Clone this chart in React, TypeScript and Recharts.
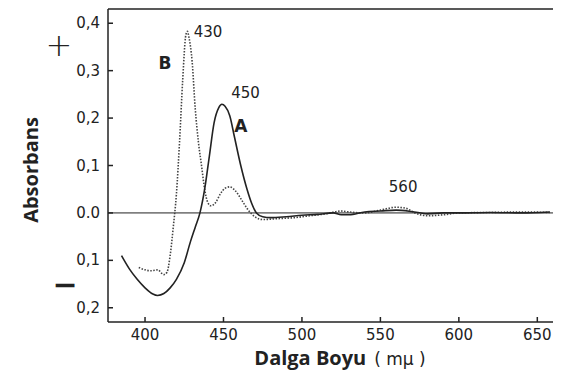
import { LineChart, Line, XAxis, YAxis, ReferenceLine, ReferenceDot } from 'recharts';

// Curve A (solid)
const waveA = [385, 390, 395, 400, 405, 408, 412, 416, 420, 425, 429, 432, 435, 438, 441, 444, 447, 449, 451, 454, 457, 461, 465, 468, 471, 475, 480, 490, 500, 510, 520, 525, 530, 540, 550, 560, 570, 580, 590, 600, 620, 640, 658];
const absA = [-0.09, -0.118, -0.14, -0.158, -0.171, -0.174, -0.17, -0.158, -0.14, -0.105, -0.06, -0.03, 0.0, 0.05, 0.12, 0.19, 0.222, 0.229, 0.225, 0.205, 0.16, 0.1, 0.05, 0.02, 0.0, -0.008, -0.01, -0.008, -0.005, -0.003, 0.0, -0.004, -0.004, 0.002, 0.004, 0.006, 0.003, -0.002, 0.0, 0.0, 0.001, 0.0, 0.002];

// Curve B (dotted)
const waveB = [396, 400, 404, 408, 412, 414, 416, 418, 420, 422, 424, 426, 427, 428, 430, 432, 434, 436, 438, 440, 442, 445, 448, 451, 454, 458, 462, 466, 470, 475, 485, 495, 505, 515, 525, 530, 540, 550, 560, 566, 572, 580, 590, 600, 620, 640, 658];
const absB = [-0.115, -0.12, -0.122, -0.12, -0.13, -0.125, -0.09, -0.03, 0.04, 0.15, 0.28, 0.375, 0.383, 0.37, 0.32, 0.22, 0.15, 0.1, 0.05, 0.022, 0.015, 0.022, 0.04, 0.052, 0.055, 0.045, 0.025, 0.005, -0.008, -0.014, -0.012, -0.01, -0.006, -0.002, 0.004, 0.002, 0.0, 0.006, 0.012, 0.01, 0.0, -0.006, -0.004, 0.0, 0.001, 0.002, 0.001];

const xTicks = [400, 450, 500, 550, 600, 650];
const yTicks = [-0.2, -0.1, 0, 0.1, 0.2, 0.3, 0.4];
const yTickLabels = ['0,2', '0,1', '0.0', '0,1', '0,2', '0,3', '0,4'];

const dataA = waveA.map((x, i) => ({ x, a: absA[i] }));
const dataB = waveB.map((x, i) => ({ x, b: absB[i] }));

const ink = '#222';
const tickFont = '"DejaVu Sans", sans-serif';
const xDomain = [376.4, 660];

const YTick = (props: any) => {
  const { x, y, payload } = props;
  const idx = yTicks.indexOf(payload.value);
  return (
    <g>
      <line x1={x} x2={x + 5} y1={y} y2={y} stroke={ink} strokeWidth={1.5} />
      <text x={x - 8} y={y + 5} textAnchor="end" fontSize={15} fontFamily={tickFont} fill={ink}>
        {idx >= 0 ? yTickLabels[idx] : ''}
      </text>
    </g>
  );
};

const XTick = (props: any) => {
  const { x, y, payload } = props;
  return (
    <g>
      <line x1={x} x2={x} y1={y} y2={y - 5} stroke={ink} strokeWidth={1.5} />
      <text x={x} y={y + 18} textAnchor="middle" fontSize={15} fontFamily={tickFont} fill={ink}>
        {payload.value}
      </text>
    </g>
  );
};

const note = (value: string, size = 15, weight = 'normal', position: any = 'center') => ({
  value,
  position,
  offset: 0,
  fontSize: size,
  fontWeight: weight,
  fontFamily: tickFont,
  fill: ink,
});

export default function App() {
  return (
    <div style={{ position: 'relative', width: 545, height: 364 }}>
      <LineChart
        width={545}
        height={360}
        margin={{ top: 0, right: 0, bottom: 16, left: 0 }}
        style={{ display: 'block' }}
      >
        <XAxis
          xAxisId="top"
          orientation="top"
          type="number"
          dataKey="x"
          domain={xDomain}
          height={1}
          tick={false}
          tickLine={false}
          axisLine={{ stroke: ink, strokeWidth: 1.5 }}
        />
        <XAxis
          type="number"
          dataKey="x"
          domain={xDomain}
          ticks={xTicks}
          height={30}
          tickSize={0}
          tickMargin={0}
          tick={<XTick />}
          tickLine={false}
          axisLine={{ stroke: ink, strokeWidth: 1.5 }}
          allowDataOverflow
        />
        <YAxis
          type="number"
          domain={[-0.23, 0.43]}
          ticks={yTicks}
          width={100}
          tickSize={0}
          tickMargin={0}
          tick={<YTick />}
          tickLine={false}
          axisLine={{ stroke: ink, strokeWidth: 1.5 }}
          allowDataOverflow
        />
        <ReferenceLine y={0} stroke={ink} strokeWidth={1} />
        <Line
          data={dataB}
          dataKey="b"
          type="monotone"
          stroke="#444"
          strokeWidth={1.6}
          strokeDasharray="1.5 1.5"
          dot={false}
          isAnimationActive={false}
        />
        <Line
          data={dataA}
          dataKey="a"
          type="monotone"
          stroke={ink}
          strokeWidth={1.6}
          dot={false}
          isAnimationActive={false}
        />
        <ReferenceDot x={431} y={0.383} r={0} stroke="none" fill="none" label={note('430', 15, 'normal', 'right')} />
        <ReferenceDot x={412.7} y={0.317} r={0} stroke="none" fill="none" label={note('B', 17, 'bold')} />
        <ReferenceDot x={464} y={0.254} r={0} stroke="none" fill="none" label={note('450')} />
        <ReferenceDot x={461} y={0.183} r={0} stroke="none" fill="none" label={note('A', 17, 'bold')} />
        <ReferenceDot x={564.5} y={0.056} r={0} stroke="none" fill="none" label={note('560')} />
      </LineChart>
      <div
        style={{
          position: 'absolute',
          left: 22,
          top: 162,
          transform: 'translate(-50%, -50%) rotate(-90deg)',
          fontFamily: '"Open Sans", sans-serif',
          fontWeight: 700,
          fontSize: 20,
          color: ink,
          whiteSpace: 'nowrap',
        }}
      >
        Absorbans
      </div>
      <div
        style={{
          position: 'absolute',
          left: 51,
          top: 37,
          transform: 'translate(-50%, -50%)',
          fontFamily: '"DejaVu Sans", sans-serif',
          fontSize: 32,
          fontWeight: 300,
          color: ink,
          lineHeight: 1,
        }}
      >
        +
      </div>
      <div
        style={{
          position: 'absolute',
          left: 57,
          top: 277,
          transform: 'translate(-50%, -50%)',
          fontFamily: '"DejaVu Sans", sans-serif',
          fontWeight: 700,
          fontSize: 30,
          color: ink,
          lineHeight: 1,
        }}
      >
        −
      </div>
      <div
        style={{
          position: 'absolute',
          left: 332,
          top: 350,
          transform: 'translate(-50%, -50%)',
          fontFamily: '"Open Sans", sans-serif',
          fontWeight: 700,
          fontSize: 20,
          color: ink,
          whiteSpace: 'nowrap',
          lineHeight: 1.2,
        }}
      >
        Dalga Boyu
        <span style={{ fontWeight: 400, fontSize: 17, fontFamily: '"DejaVu Sans", sans-serif', marginLeft: 8 }}>( mμ )</span>
      </div>
    </div>
  );
}
